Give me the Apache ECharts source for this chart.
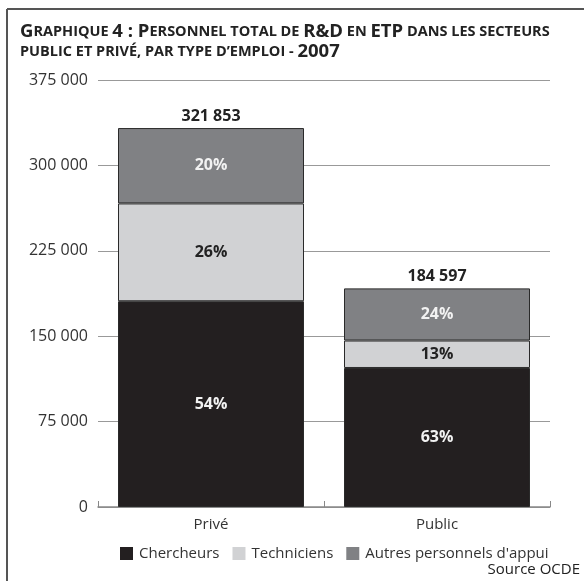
<!DOCTYPE html>
<html>
<head>
<meta charset="utf-8">
<script src="https://cdn.jsdelivr.net/npm/echarts@6/dist/echarts.min.js"></script>
<style>
  html, body { margin: 0; padding: 0; background: #fff; }
  #chart { width: 584px; height: 581px; }
</style>
</head>
<body>
<div id="chart"></div>
<script>
// catégories et valeurs
const categories = ['Privé', 'Public']
const chercheurs = [180700, 122100]
const techniciens = [85900, 24100]
const autres = [66200, 45800]
const chercheursPct = ['54%', '63%']
const techniciensPct = ['26%', '13%']
const autresPct = ['20%', '24%']
const totals = ['321 853', '184 597']
const yTicks = [0, 75000, 150000, 225000, 300000, 375000]

const FONT = '"Open Sans", "DejaVu Sans", sans-serif'

function fmt(v) {
  return String(v).replace(/\B(?=(\d{3})+(?!\d))/g, ' ')
}

function pctSeries(name, values, labels, color, labelColor) {
  return {
    name: name,
    type: 'bar',
    stack: 'total',
    barWidth: 186,
    itemStyle: { color: color, borderColor: '#2a2a2a', borderWidth: 1 },
    label: {
      show: true,
      position: 'inside',
      formatter: p => labels[p.dataIndex],
      color: labelColor,
      fontFamily: FONT,
      fontWeight: 'bold',
      fontSize: 16
    },
    data: values
  }
}

const chart = echarts.init(document.getElementById('chart'))
chart.setOption({
  backgroundColor: '#fff',
  animation: false,
  title: {
    left: 20,
    top: 22,
    padding: 0,
    text: '{a|G}{b|RAPHIQUE }{a|4 : P}{b|ERSONNEL TOTAL DE }{a|R&D}{b| EN }{a|ETP}{b| DANS LES SECTEURS}\n{b|PUBLIC ET PRIVÉ, PAR TYPE D’EMPLOI - }{a|2007}',
    textStyle: {
      rich: {
        a: { fontFamily: FONT, fontWeight: 'bold', fontSize: 18.5, color: '#222', lineHeight: 20 },
        b: { fontFamily: FONT, fontWeight: 'bold', fontSize: 14.5, color: '#222', lineHeight: 20 }
      }
    }
  },
  grid: { left: 98, right: 34, top: 80, bottom: 74 },
  legend: {
    left: 120,
    top: 546,
    padding: 0,
    icon: 'rect',
    itemWidth: 13,
    itemHeight: 13,
    itemGap: 13,
    itemStyle: { borderWidth: 0 },
    data: ['Chercheurs', 'Techniciens', "Autres personnels d'appui"],
    textStyle: { fontFamily: FONT, fontSize: 15, color: '#333', padding: [0, 0, 0, 1] }
  },
  xAxis: {
    type: 'category',
    data: categories,
    axisLine: { lineStyle: { color: '#888', width: 1.5 } },
    axisTick: { show: true, inside: true, length: 6, lineStyle: { color: '#888' } },
    axisLabel: { fontFamily: FONT, fontSize: 15, color: '#333', margin: 10 }
  },
  yAxis: {
    type: 'value',
    min: 0,
    max: 375000,
    interval: 75000,
    axisLine: { show: false },
    axisTick: { show: false },
    axisLabel: {
      fontFamily: FONT,
      fontSize: 16,
      color: '#333',
      margin: 10,
      formatter: v => yTicks.includes(v) ? fmt(v) : ''
    },
    splitLine: { lineStyle: { color: '#999', width: 1.2 } }
  },
  graphic: [
    { type: 'line', shape: { x1: 7, y1: 9, x2: 584, y2: 9 }, style: { stroke: '#555', lineWidth: 2 } },
    { type: 'line', shape: { x1: 7, y1: 9, x2: 7, y2: 581 }, style: { stroke: '#555', lineWidth: 2 } },
    {
      type: 'text', right: 4, top: 562,
      style: { text: 'Source OCDE', fontFamily: FONT, fontSize: 15, fill: '#222' }
    }
  ],
  series: [
    pctSeries('Chercheurs', chercheurs, chercheursPct, '#231f20', '#f2f2f2'),
    pctSeries('Techniciens', techniciens, techniciensPct, '#d1d2d4', '#222'),
    pctSeries("Autres personnels d'appui", autres, autresPct, '#808184', '#f2f2f2'),
    {
      name: 'total',
      type: 'bar',
      stack: 'total',
      barWidth: 186,
      itemStyle: { color: 'transparent' },
      label: {
        show: true,
        position: 'top',
        distance: 4,
        formatter: p => totals[p.dataIndex],
        color: '#222',
        fontFamily: FONT,
        fontWeight: 'bold',
        fontSize: 16
      },
      data: [0, 0]
    }
  ]
})
</script>
</body>
</html>
